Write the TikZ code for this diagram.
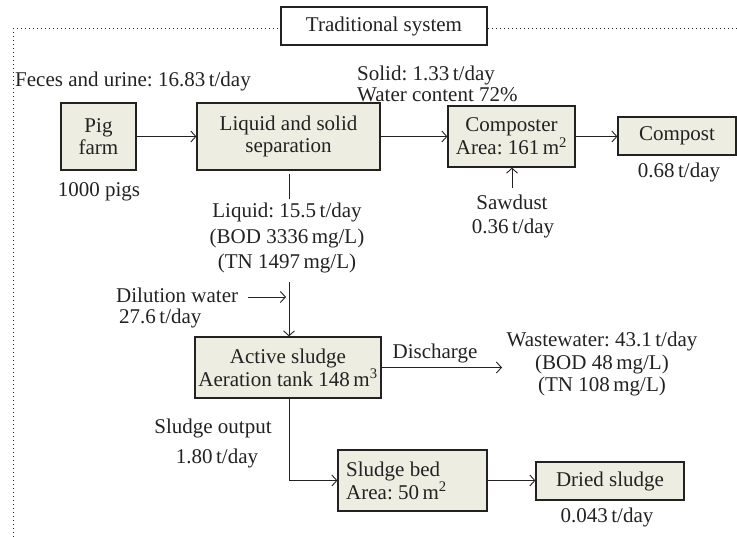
\documentclass[tikz,border=0pt]{standalone}
\usepackage{fontspec}
\setmainfont{Liberation Serif}
\usetikzlibrary{arrows.meta}
\definecolor{boxfill}{HTML}{EDEDE2}
\definecolor{ink}{HTML}{222222}
\frenchspacing
\begin{document}
\begin{tikzpicture}[x=1pt,y=-1pt,
  every node/.style={text=ink},
  box/.style={draw=ink, line width=1.2pt, fill=boxfill, align=center, inner sep=0pt},
  lbl/.style={inner sep=0pt, align=center},
  arr/.style={draw=ink, -{Straight Barb[length=5pt,width=11pt,line width=0.9pt]}, line width=0.9pt},
  plain/.style={draw=ink, line width=0.9pt},
  frame/.style={draw=ink, line width=1pt, dash pattern=on 1pt off 3pt},
  font=\fontsize{21}{21.5}\selectfont]
\useasboundingbox (0,0) rectangle (737,537);

% title and frame
\node[box, fill=white, minimum width=206pt, minimum height=38pt] (title) at (384,26) {Traditional system};
\coordinate (fl) at (13,537);
\coordinate (fc) at (13,29);
\coordinate (fr) at (737,29);
\draw[frame] (fl) -- (fc) -- (fc -| title.west);
\draw[frame] (fr -| title.east) -- (fr);

% boxes
\node[box, minimum width=75pt, minimum height=67pt] (pig) at (98.5,136.5) {Pig\\farm};
\node[box, minimum width=183pt, minimum height=67pt] (ls) at (288.5,136.5) {Liquid and solid\\separation};
\node[box, minimum width=127pt, minimum height=61pt] (comp) at (511.5,136.5) {Composter\\Area: 161\,m\textsuperscript{2}};
\node[box, minimum width=118pt, minimum height=38pt] (compost) at (677,136) {Compost};
\node[box, minimum width=186pt, minimum height=61pt] (active) at (288,367.5) {Active sludge\\Aeration tank 148\,m\textsuperscript{3}};
\node[box, minimum width=149pt, minimum height=61pt] (bed) at (412.5,480.5) {};
\node[lbl, anchor=west, align=left] (bedtxt) at (346,480.5) {Sludge bed\\Area: 50\,m\textsuperscript{2}};
\node[box, minimum width=148pt, minimum height=38pt] (dried) at (610,481) {Dried sludge};

% labels
\node[lbl] (feces) at (133,81) {Feces and urine: 16.83\,t/day};
\node[lbl] (pigs) at (99,192) {1000 pigs};
\node[lbl, anchor=west, align=left, font=\fontsize{21}{21}\selectfont] (solid) at (357,84) {Solid: 1.33\,t/day\\Water content 72\%};
\node[lbl] (saw) at (512,202) {Sawdust};
\node[lbl] (sawq) at (513,228) {0.36\,t/day};
\node[lbl] (cq) at (679,172) {0.68\,t/day};
\node[lbl, font=\fontsize{21}{25.5}\selectfont] (liq) at (287,238) {Liquid: 15.5\,t/day\\(BOD 3336\,mg/L)\\(TN 1497\,mg/L)};
\node[lbl, anchor=west, align=left, font=\fontsize{21}{21}\selectfont] (dil) at (116,307.5) {Dilution water\\\hspace*{3pt}27.6\,t/day};
\node[lbl] (dis) at (435,353) {Discharge};
\node[lbl, font=\fontsize{21}{22.5}\selectfont] (ww) at (602,364) {Wastewater: 43.1\,t/day\\(BOD 48\,mg/L)\\(TN 108\,mg/L)};
\node[lbl] (so) at (213,428) {Sludge output};
\node[lbl] (soq) at (217,458) {1.80\,t/day};
\node[lbl] (dq) at (607,517) {0.043\,t/day};

% connectors
\draw[arr] (pig.east) -- (ls.west);
\draw[arr] (ls.east) -- (comp.west);
\draw[arr] (comp.east) -- (comp.east -| compost.west);
\coordinate (sd) at (512,188);
\draw[arr] (sd) -- (sd |- comp.south);
\coordinate (l1) at (289,174);
\coordinate (l2) at (289,199);
\draw[plain] (l1) -- (l2);
\coordinate (d1) at (289,282);
\draw[arr] (d1) -- (d1 |- active.north);
\coordinate (dw1) at (248,297);
\coordinate (dw2) at (286,297);
\draw[arr] (dw1) -- (dw2);
\coordinate (wwp) at (502,367.5);
\draw[arr] (active.east) -- (wwp);
\draw[arr] (active.south -| d1) |- (bed.west);
\draw[arr] (bed.east) -- (bed.east -| dried.west);
\end{tikzpicture}
\end{document}
